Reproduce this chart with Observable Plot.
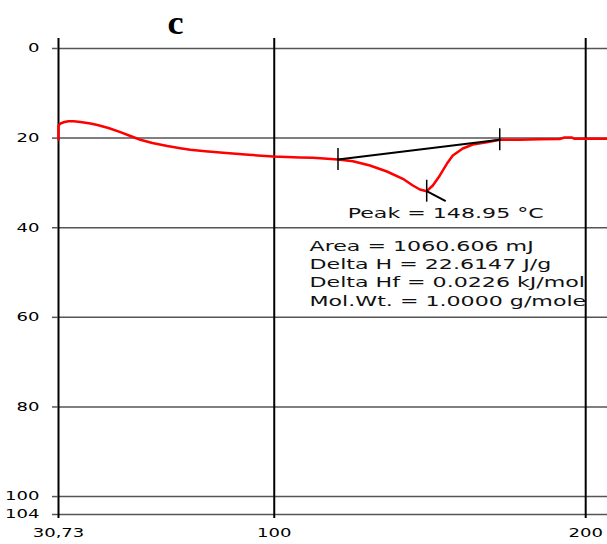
<!DOCTYPE html>
<html>
<head>
<meta charset="utf-8">
<script src="https://cdn.jsdelivr.net/npm/d3@7"></script>
<script src="https://cdn.jsdelivr.net/npm/@observablehq/plot@0.6"></script>
<style>
  html, body { margin: 0; padding: 0; background: #fff; overflow: hidden; }
</style>
</head>
<body>
<script>
// DSC heating curve: temperature (°C) and heat-flow signal (axis units, increasing downward)
const temperature = [
  30.73, 30.73, 31.37, 32.65, 33.94, 35.54, 37.78, 41.0, 43.23, 46.76,
  50.6, 53.8, 57.01, 60.86, 65.67, 69.83, 73.04, 77.84, 83.6, 90.66,
  99.64, 108.3, 112.46, 120.47, 125.28, 130.73, 136.18, 141.3, 144.51, 146.76,
  148.95, 150.92, 153.17, 155.41, 157.33, 160.54, 163.74, 168.23, 172.4, 178.8,
  185.2, 191.6, 193.2, 195.5, 196.4, 207
];
const heatFlow = [
  20.31, 17.18, 16.74, 16.40, 16.22, 16.22, 16.40, 16.74, 17.07, 17.74,
  18.68, 19.53, 20.37, 21.09, 21.76, 22.25, 22.61, 22.94, 23.28, 23.66,
  24.10, 24.33, 24.39, 24.77, 25.15, 26.11, 27.45, 29.08, 30.57, 31.47,
  31.85, 30.57, 28.34, 25.73, 23.88, 22.32, 21.42, 20.91, 20.37, 20.37,
  20.26, 20.20, 19.86, 19.86, 20.15, 20.15
];

// Integration limits and peak temperature
const baselineLimits = [120.47, 172.4];
const peakTemperature = 148.95;

// Axis ticks
const yTicks = [0, 20, 40, 60, 80, 100, 104];
const xTicks = [30.73, 100, 200];
const xTickLabels = ["30,73", "100", "200"];

// Integration results
const resultLines = [
  "Area = 1060.606 mJ",
  "Delta H = 22.6147 J/g",
  "Delta Hf = 0.0226 kJ/mol",
  "Mol.Wt. = 1.0000 g/mole"
];

const curve = temperature.map((T, i) => ({T, hf: heatFlow[i]}));
const at = (T) => curve.find(d => d.T === T);
const baseline = baselineLimits.map(at);
const peak = at(peakTemperature);
const markerHalf = 2.45;   // half height of limit markers, in y units
const xLabel = new Map(xTicks.map((t, i) => [t, xTickLabels[i]]));

const chart = Plot.plot({
  width: 607,
  height: 544,
  marginLeft: 58,
  marginRight: 0,
  marginTop: 38,
  marginBottom: 30,
  x: {domain: [30.73, 207]},
  y: {domain: [-2.23, 104], reverse: true},
  style: {fontFamily: "DejaVu Sans", background: "#fff", color: "#000"},
  marks: [
    Plot.ruleY(yTicks, {stroke: "#555", strokeWidth: 1.5}),
    Plot.text([resultLines.join("\n")], {
      text: d => d, frameAnchor: "top-left", dx: 251, dy: 199,
      lineAnchor: "top", textAnchor: "start", fontSize: 14, lineHeight: 1.31, fill: "#111"
    }),
    Plot.ruleX(xTicks, {stroke: "#000", strokeWidth: 2}),
    Plot.axisY(yTicks, {tickSize: 6, tickPadding: 13, fontSize: 12, stroke: "#555", strokeWidth: 1.5, label: null, tickFormat: d => String(d)}),
    Plot.axisX(xTicks, {tickSize: 4, tickPadding: 10, fontSize: 12, strokeWidth: 2, label: null, tickFormat: d => xLabel.get(d)}),
    Plot.line(curve, {x: "T", y: "hf", stroke: "#ff0000", strokeWidth: 2.5}),
    Plot.line(baseline, {x: "T", y: "hf", stroke: "#000", strokeWidth: 2}),
    Plot.ruleX([...baseline, peak], {x: "T", y1: d => d.hf - markerHalf, y2: d => d.hf + markerHalf, stroke: "#000", strokeWidth: 1.5}),
    Plot.link([peak], {x1: "T", y1: "hf", x2: d => d.T + 6.1, y2: d => d.hf + 2.23, stroke: "#000", strokeWidth: 2}),
    Plot.text([peak], {
      x: "T", y: "hf", text: d => `Peak = ${d.T.toFixed(2)} °C`,
      dx: 19, dy: 22, fontSize: 14, textAnchor: "middle", fill: "#111"
    }),
    Plot.text(["c"], {
      text: d => d, frameAnchor: "top-left", dx: 117, dy: -28,
      fontFamily: "Liberation Serif", fontWeight: "bold", fontSize: 33, textAnchor: "middle"
    })
  ]
});

document.body.append(chart);

// Widen the lettering: glyphs are drawn horizontally stretched
chart.querySelectorAll("text").forEach(t => {
  const fs = parseFloat(getComputedStyle(t).fontSize);
  const k = fs >= 30 ? 1.1 : fs >= 14 ? 1.58 : 1.5;
  const parts = t.querySelectorAll("tspan");
  (parts.length ? [...parts] : [t]).forEach(el => {
    const L = el.getComputedTextLength();
    el.setAttribute("textLength", (L * k).toFixed(1));
    el.setAttribute("lengthAdjust", "spacingAndGlyphs");
  });
});
</script>
</body>
</html>
